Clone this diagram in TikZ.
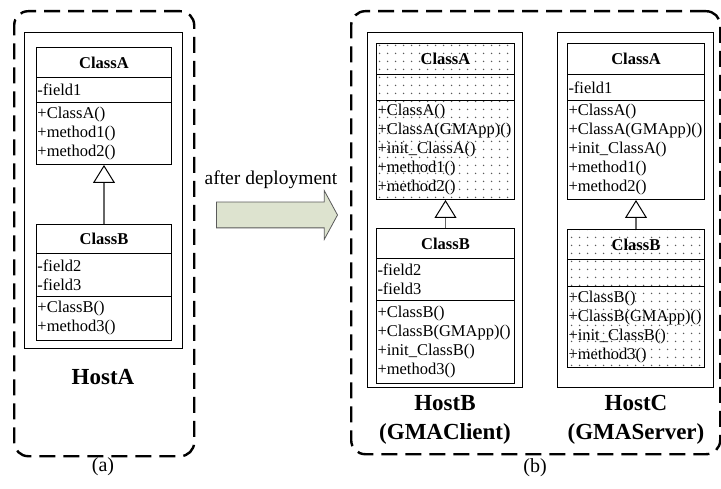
\documentclass[tikz,border=0pt]{standalone}
\usepackage{fontspec}
\setmainfont{Liberation Serif}
\usetikzlibrary{shapes.multipart, shapes.arrows, arrows.meta, patterns.meta, positioning}

\definecolor{arrowfill}{RGB}{221,227,207}
\definecolor{arrowline}{RGB}{90,90,90}

\tikzdeclarepattern{
  name=sparsedots,
  type=uncolored,
  bounding box={(0pt,0pt) and (8pt,8pt)},
  tile size={(8pt,8pt)},
  code={\fill (4pt,4pt) circle (0.85pt);}
}

% parts of a class box: height, width, text
\newcommand{\ctitle}[3]{\parbox[c][#1][c]{#2}{\centering\bfseries #3}}
\newcommand{\cbody}[3]{\parbox[c][#1][c]{#2}{\leftskip=1pt #3}}

\begin{document}
\begin{tikzpicture}[x=1pt,y=-1pt,
  classbox/.style={draw, rectangle split, rectangle split parts=3, inner sep=0pt,
    anchor=north west, line width=1pt, font=\fontsize{16.5}{19}\selectfont},
  dotfill/.style={pattern=sparsedots, pattern color=black!65},
  hostbox/.style={draw, line width=1.1pt, anchor=north west, inner sep=0pt},
  groupbox/.style={draw, dash pattern=on 16pt off 8pt, line width=2.4pt,
    rounded corners=14pt, anchor=north west, inner sep=0pt},
  hostlabel/.style={font=\fontsize{23}{29}\selectfont\bfseries, align=center},
  caption/.style={font=\fontsize{20}{24}\selectfont},
  inherit/.style={black!60, line width=1.2pt,
    -{Triangle[open, length=18pt, width=22pt, color=black, line width=1pt]}}]
\useasboundingbox (0,0) rectangle (721,489);

% (a) before deployment
\node[groupbox, minimum width=180pt, minimum height=445pt] (grpA) at (13,10) {};
\node[hostbox, minimum width=158pt, minimum height=316pt] (hostA) at (24,32) {};
\node[classbox] (aA) at (36,47) {\ctitle{29pt}{135pt}{ClassA}
  \nodepart{two}\cbody{24pt}{135pt}{-field1}
  \nodepart{three}\cbody{61pt}{135pt}{+ClassA()\\+method1()\\+method2()}};
\node[classbox] (aB) at (36,224) {\ctitle{28pt}{135pt}{ClassB}
  \nodepart{two}\cbody{42pt}{135pt}{-field2\\-field3}
  \nodepart{three}\cbody{43pt}{135pt}{+ClassB()\\+method3()}};
\draw[inherit] (aB.north) -- (aA.south);
\node[hostlabel] (labA) at (103,377) {HostA};
\node[caption] (capA) at (103,467) {(a)};

% deployment arrow
\node[font=\fontsize{19.5}{22}\selectfont] (deployText) at (271,180) {after deployment};
\node[single arrow, draw=arrowline, fill=arrowfill, line width=0.8pt,
  inner xsep=0pt, inner ysep=12.5pt, minimum height=121pt,
  single arrow head extend=11.5pt, single arrow tip angle=123] (deploy) at (273.5,215) {};

% (b) after deployment
\node[groupbox, minimum width=369pt, minimum height=443pt] (grpB) at (350,10) {};

\node[hostbox, minimum width=155pt, minimum height=355pt] (hostB) at (367,32) {};
\node[classbox, dotfill] (bA) at (376,43) {\ctitle{30pt}{138pt}{ClassA}
  \nodepart{two}\cbody{25pt}{138pt}{}
  \nodepart{three}\cbody{98pt}{138pt}{+ClassA()\\+ClassA(GMApp)()\\+init\_ClassA()\\+method1()\\+method2()}};
\node[classbox] (bB) at (376,228) {\ctitle{29pt}{138pt}{ClassB}
  \nodepart{two}\cbody{41pt}{138pt}{-field2\\-field3}
  \nodepart{three}\cbody{82pt}{138pt}{+ClassB()\\+ClassB(GMApp)()\\+init\_ClassB()\\+method3()}};
\draw[inherit] (bB.north) -- (bA.south);
\node[hostlabel] (labB) at (445,419.5) {HostB\\(GMAClient)};

\node[hostbox, minimum width=156pt, minimum height=355pt] (hostC) at (557,32) {};
\node[classbox] (cA) at (567,43) {\ctitle{30pt}{137pt}{ClassA}
  \nodepart{two}\cbody{25pt}{137pt}{-field1}
  \nodepart{three}\cbody{98pt}{137pt}{+ClassA()\\+ClassA(GMApp)()\\+init\_ClassA()\\+method1()\\+method2()}};
\node[classbox, dotfill] (cB) at (567,229) {\ctitle{29pt}{137pt}{ClassB}
  \nodepart{two}\cbody{26pt}{137pt}{}
  \nodepart{three}\cbody{80pt}{137pt}{+ClassB()\\+ClassB(GMApp)()\\+init\_ClassB()\\+method3()}};
\draw[inherit] (cB.north) -- (cA.south);
\node[hostlabel] (labC) at (636,420) {HostC\\(GMAServer)};

\node[caption] (capB) at (535,468) {(b)};
\end{tikzpicture}
\end{document}
